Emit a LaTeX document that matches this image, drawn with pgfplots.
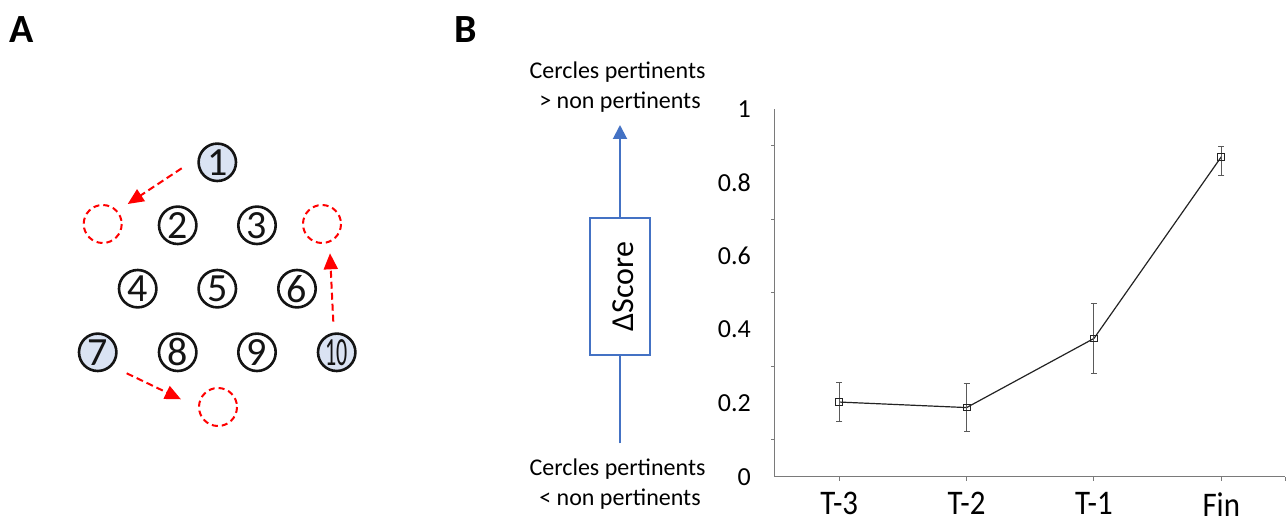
\documentclass[border=0pt]{standalone}
\usepackage{pgfplots}
\pgfplotsset{compat=1.18}
\usepackage{fontspec}
\setmainfont{Carlito}
\usetikzlibrary{arrows.meta}
\definecolor{circfill}{HTML}{DAE3F3}
\definecolor{arrowblue}{HTML}{4472C4}
\definecolor{axgray}{HTML}{7A7A7A}
\definecolor{redc}{HTML}{FF0000}
\definecolor{inkc}{HTML}{141414}
\definecolor{linec}{HTML}{232323}
\definecolor{errc}{HTML}{5A5A5A}
\begin{document}
\begin{tikzpicture}
\path[use as bounding box] (0,0) rectangle (643.5pt,-259.5pt);
\begin{scope}[x=0.5pt,y=-0.5pt]
  % panel labels
  \node[anchor=base west, inner sep=0pt, font=\fontsize{20}{20}\selectfont\bfseries] at (9,43) {A};
  \node[anchor=base west, inner sep=0pt, font=\fontsize{20}{20}\selectfont\bfseries] at (454,43) {B};
  % circled numbers
  \foreach \x/\y/\n/\f in {217.3/162.3/1/circfill, 177.7/225.3/2/white, 257/225.3/3/white,
      137.7/288.7/4/white, 217.3/288.7/5/white, 297/288.7/6/white,
      97.7/352.3/7/circfill, 177.7/352.3/8/white, 257/352.3/9/white,
      336.7/352.3/{\scalebox{0.55}[1]{10}}/circfill}{
    \draw[line width=1.3pt, fill=\f, draw=inkc] (\x,\y) circle[radius=18.7];
    \node[inner sep=0pt, font=\fontsize{20}{20}\selectfont, text=inkc] at (\x,\y) {\n};
  }
  % dashed red target circles
  \foreach \x/\y in {102.7/224, 322/224, 218/407}{
    \draw[redc, line width=1pt, dash pattern=on 3pt off 2pt] (\x,\y) circle[radius=19];
  }
  % red arrows
  \draw[redc, line width=1pt, dash pattern=on 3.5pt off 2pt, -{Triangle[length=8pt,width=7pt]}] (181.7,168.3) -- (127.7,204);
  \draw[redc, line width=1pt, dash pattern=on 3.5pt off 2pt, -{Triangle[length=8pt,width=7pt]}] (333.3,321.7) -- (330,253.3);
  \draw[redc, line width=1pt, dash pattern=on 3.5pt off 2pt, -{Triangle[length=8pt,width=7pt]}] (126.7,373.3) -- (181,399.3);
  % blue arrow and box
  \draw[arrowblue, line width=1pt, -{Triangle[length=7pt,width=7pt]}] (620,443.3) -- (620,125);
  \draw[arrowblue, line width=1.2pt, fill=white] (590,218.3) rectangle (650,355);
  \node[rotate=90, inner sep=0pt, font=\fontsize{16}{16}\selectfont] at (623.3,286.7) {ΔScore};
  % texts
  \node[anchor=base, inner sep=0pt, font=\fontsize{12}{12}\selectfont] at (617.5,78.3) {Cercles pertinents};
  \node[anchor=base, inner sep=0pt, font=\fontsize{12}{12}\selectfont] at (620,108.3) {> non pertinents};
  \node[anchor=base, inner sep=0pt, font=\fontsize{12}{12}\selectfont] at (617.5,475) {Cercles pertinents};
  \node[anchor=base, inner sep=0pt, font=\fontsize{12}{12}\selectfont] at (620,505) {< non pertinents};
\end{scope}
\begin{axis}[
  at={(387.15pt,-238.35pt)}, anchor=south west,
  scale only axis, width=255.35pt, height=183.85pt,
  xmin=-0.51, xmax=3.5, ymin=0, ymax=1,
  axis x line=bottom, axis y line=left,
  axis line style={-, axgray, line width=0.6pt},
  xtick={0,1,2,3},
  xticklabels={{\scalebox{1.03}[1.15]{T-3}},{\scalebox{1.03}[1.15]{T-2}},{\scalebox{1.03}[1.15]{T-1}},{\scalebox{1.03}[1.15]{Fin}}},
  extra x ticks={3.5}, extra x tick labels={},
  ytick={0,0.2,0.4,0.6,0.8,1},
  yticklabels={0,0.2,0.4,0.6,0.8,1},
  minor y tick num=1,
  tick align=outside,
  major tick length=2pt, minor tick length=1.5pt,
  tick style={axgray, line width=0.5pt},
  major y tick style={draw=none},
  xticklabel style={font=\fontsize{15}{15}\selectfont, anchor=north, inner sep=0pt, yshift=-5.6pt},
  yticklabel style={font=\fontsize{13}{13}\selectfont, anchor=east, inner sep=0pt, xshift=-9.5pt},
  clip=false,
]
\addplot[color=linec, line width=0.6pt, mark=square, mark size=1.7pt,
  mark options={fill=white, solid, line width=0.5pt},
  error bars/.cd, y dir=both, y explicit,
  error bar style={color=errc, line width=0.5pt},
  error mark options={rotate=90, mark size=1.5pt, color=errc, line width=0.5pt}]
  coordinates {
    (0,0.203) +- (0,0.054)
    (1,0.188) +- (0,0.066)
    (2,0.376) +- (0,0.094)
    (3,0.870) += (0,0.027) -= (0,0.051)
  };
\end{axis}
\end{tikzpicture}
\end{document}
